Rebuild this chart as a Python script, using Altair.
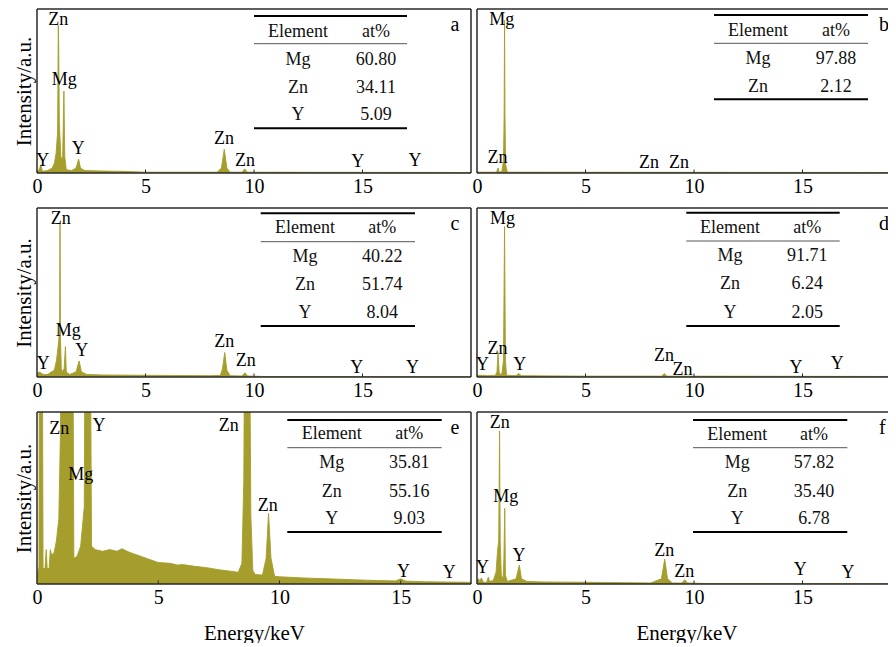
import altair as alt
import pandas as pd

FONT = "Liberation Serif"
COLOR = "#a59e2c"

# ---------------- spectra: energy (keV) and intensity (% of panel height) ----------------
a_E = [0.0, 0.1, 0.18, 0.25, 0.5, 0.7, 0.8, 0.88, 0.95, 0.98, 1.0, 1.03, 1.1, 1.18, 1.24, 1.28, 1.35, 1.6, 1.8, 1.92, 2.0, 2.2, 3.0, 4.0, 5.0, 8.3, 8.5, 8.63, 8.75, 8.9, 9.45, 9.57, 9.7, 20.0]
a_I = [1.0, 2.0, 5.0, 1.0, 1.5, 3.0, 6.0, 12.0, 25.0, 90.0, 78.0, 30.0, 10.0, 8.0, 50.0, 10.0, 2.0, 1.5, 3.0, 8.5, 3.0, 1.5, 1.2, 1.0, 0.5, 0.5, 3.0, 14.5, 3.0, 0.5, 0.5, 2.5, 0.5, 0.3]

b_E = [0.0, 0.1, 0.9, 0.97, 1.02, 1.15, 1.22, 1.25, 1.27, 1.29, 1.32, 1.4, 20.0]
b_I = [1.0, 0.5, 0.5, 3.0, 0.5, 1.0, 8.0, 35.0, 93.0, 35.0, 5.0, 0.5, 0.3]

c_E = [0.0, 0.1, 0.3, 0.5, 0.6, 0.8, 0.9, 1.0, 1.04, 1.06, 1.08, 1.12, 1.18, 1.25, 1.31, 1.35, 1.5, 1.8, 1.94, 2.05, 2.3, 3.0, 5.0, 8.0, 8.45, 8.55, 8.65, 8.75, 8.9, 9.45, 9.58, 9.7, 10.5, 20.0]
c_I = [2.0, 3.0, 1.5, 1.5, 2.5, 4.0, 10.0, 21.0, 30.0, 91.0, 24.0, 5.0, 3.0, 5.0, 18.0, 3.0, 1.5, 3.0, 9.5, 3.0, 1.5, 1.2, 1.0, 0.8, 1.0, 5.0, 14.5, 4.0, 0.8, 0.6, 2.5, 0.6, 0.3, 0.2]

d_E = [0.0, 0.25, 0.5, 0.85, 0.92, 0.97, 1.02, 1.07, 1.15, 1.22, 1.27, 1.31, 1.36, 1.8, 1.92, 2.05, 5.0, 8.5, 8.63, 8.75, 20.0]
d_I = [1.0, 1.0, 0.8, 1.0, 3.0, 14.5, 3.0, 1.5, 2.0, 10.0, 89.0, 10.0, 1.0, 0.8, 2.0, 0.8, 0.5, 0.5, 2.0, 0.5, 0.3]

e_E = [0.0, 0.08, 0.1, 0.22, 0.25, 0.33, 0.38, 0.42, 0.5, 0.55, 0.6, 0.7, 0.8, 0.9, 0.97, 1.0, 1.48, 1.52, 1.65, 1.8, 1.95, 1.98, 2.2, 2.25, 2.4, 2.7, 3.0, 3.3, 3.5, 3.8, 4.0, 4.3, 4.5, 5.0, 5.5, 5.8, 6.0, 6.5, 7.0, 7.5, 8.0, 8.3, 8.45, 8.53, 8.56, 8.77, 8.82, 8.9, 9.0, 9.3, 9.45, 9.55, 9.65, 9.8, 10.0, 11.0, 12.0, 13.0, 14.0, 14.8, 15.0, 15.2, 16.0, 17.0, 17.9]
e_I = [5.0, 10.0, 150.0, 150.0, 9.0, 9.0, 20.0, 9.0, 9.0, 20.0, 17.0, 18.0, 25.0, 38.0, 90.0, 150.0, 150.0, 15.0, 16.0, 22.0, 45.0, 150.0, 150.0, 22.0, 20.0, 19.0, 20.0, 19.0, 20.5, 18.5, 17.5, 16.0, 15.0, 12.5, 12.0, 11.0, 11.3, 10.3, 9.5, 8.3, 7.4, 6.8, 12.0, 60.0, 150.0, 150.0, 40.0, 8.0, 5.5, 5.2, 15.0, 41.0, 15.0, 4.5, 4.2, 3.5, 3.0, 2.5, 2.0, 1.8, 3.0, 1.7, 1.3, 1.1, 1.0]

f_E = [0.0, 0.08, 0.12, 0.2, 0.3, 0.45, 0.52, 0.58, 0.75, 0.88, 0.95, 1.0, 1.04, 1.07, 1.12, 1.2, 1.24, 1.28, 1.31, 1.4, 1.8, 1.95, 2.05, 2.3, 3.0, 5.0, 8.0, 8.5, 8.65, 8.78, 9.0, 9.45, 9.57, 9.7, 10.5, 20.0]
f_I = [2.0, 3.0, 1.5, 3.5, 1.0, 1.0, 4.0, 1.5, 2.0, 7.0, 20.0, 25.0, 89.0, 25.0, 5.0, 3.0, 15.0, 44.0, 5.0, 1.5, 3.0, 11.0, 3.0, 1.5, 1.2, 1.0, 0.6, 3.0, 14.5, 3.0, 0.6, 0.6, 2.5, 0.6, 0.3, 0.2]

# ---------------- peak labels: text, energy, height (% of panel) ----------------
a_lab = ["Zn", "Mg", "Y", "Y", "Zn", "Zn", "Y", "Y"]
a_lx = [0.98, 1.26, 0.26, 1.9, 8.62, 9.58, 14.78, 17.42]
a_ly = [93.3, 56.7, 7.3, 14.8, 20.5, 7.3, 6.7, 7.3]

b_lab = ["Mg", "Zn", "Zn", "Zn"]
b_lx = [1.14, 0.94, 7.93, 9.31]
b_ly = [93.3, 9.3, 6.3, 6.3]

c_lab = ["Zn", "Mg", "Y", "Y", "Zn", "Zn", "Y", "Y"]
c_lx = [1.1, 1.44, 0.29, 2.06, 8.63, 9.62, 14.73, 17.3]
c_ly = [93.5, 27, 7.5, 15.4, 20.9, 9.5, 5.5, 5.5]

d_lab = ["Mg", "Zn", "Y", "Y", "Zn", "Zn", "Y", "Y"]
d_lx = [1.17, 0.94, 0.25, 1.97, 8.62, 9.47, 14.7, 16.6]
d_ly = [93.7, 16.7, 6.9, 6.9, 12.4, 4.1, 5.5, 7.5]

e_lab = ["Zn", "Mg", "Y", "Zn", "Zn", "Y", "Y"]
e_lx = [0.92, 1.8, 2.56, 7.91, 9.52, 15.12, 17.0]
e_ly = [90, 63.4, 92, 92, 45.3, 7.2, 6.6]

f_lab = ["Zn", "Mg", "Y", "Y", "Zn", "Zn", "Y", "Y"]
f_lx = [1.05, 1.33, 0.25, 1.94, 8.63, 9.55, 14.9, 17.1]
f_ly = [93.8, 50.6, 9.5, 16.3, 19.2, 7.2, 8.1, 6.2]

# ---------------- composition tables ----------------
a_el, a_at = ["Mg", "Zn", "Y"], ["60.80", "34.11", "5.09"]
b_el, b_at = ["Mg", "Zn"], ["97.88", "2.12"]
c_el, c_at = ["Mg", "Zn", "Y"], ["40.22", "51.74", "8.04"]
d_el, d_at = ["Mg", "Zn", "Y"], ["91.71", "6.24", "2.05"]
e_el, e_at = ["Mg", "Zn", "Y"], ["35.81", "55.16", "9.03"]
f_el, f_at = ["Mg", "Zn", "Y"], ["57.82", "35.40", "6.78"]

x_ticks = [5, 10, 15]

# ---------------- layout (pixels, relative to each panel frame) ----------------
PX_PER_KEV = 21.7
W_LEFT = 434
W_RIGHT = 419
geom = {
    "a": dict(x0=217, x1=370, top=7, head=23, thin=34.7, rows=[51, 78.7, 106], bot=119.3, c1=261, c2=339),
    "b": dict(x0=237, x1=391, top=6, head=22, thin=34.3, rows=[50.3, 78], bot=90.3, c1=281, c2=359),
    "c": dict(x0=223.7, x1=378, top=5.3, head=20.3, thin=33.7, rows=[49, 77.3, 104.7], bot=118, c1=268, c2=345.3),
    "d": dict(x0=209.3, x1=362.7, top=4.7, head=20.3, thin=33, rows=[48, 76.3, 104.7], bot=118, c1=253, c2=330.3),
    "e": dict(x0=250.3, x1=404.7, top=8, head=22.3, thin=35.7, rows=[50.7, 79.7, 107.3], bot=120, c1=294.7, c2=372.3),
    "f": dict(x0=216, x1=370.3, top=8, head=23, thin=35.7, rows=[50.7, 79.7, 107.3], bot=120, c1=260.3, c2=337),
}
LETTER_LEFT = {"a": 413.5, "c": 413.5, "e": 413.5, "b": 402, "d": 402, "f": 402}
LETTER_Y = 15.5
FRAME = "#2a2a2a"


def panel(key, E, I, labs, lx, ly, els, ats, xmax, W, H, left, bottom):
    kx = xmax / W
    fy = 100.0 / H
    g = geom[key]
    xs = alt.Scale(domain=[0, xmax], nice=False, zero=False)
    ys = alt.Scale(domain=[0, 100], nice=False, zero=False)
    xa = dict(values=[0, 5, 10, 15], labelFlush=False, labelFontSize=20, labelPadding=3)
    if bottom:
        xa["title"] = "Energy/keV"
        xa["titlePadding"] = 15
    else:
        xa["title"] = None
    X = lambda f="x": alt.X(f"{f}:Q", scale=xs, axis=alt.Axis(**xa))
    if left:
        Y = lambda f="y": alt.Y(f"{f}:Q", scale=ys, axis=alt.Axis(title="Intensity/a.u.", labels=False, titlePadding=3))
    else:
        Y = lambda f="y": alt.Y(f"{f}:Q", scale=ys, axis=None)

    spec = pd.DataFrame({"x": E, "y": I})
    area = alt.Chart(spec).mark_area(color=COLOR, clip=True, opacity=1).encode(x=X(), y=Y())
    line = alt.Chart(spec).mark_line(color=COLOR, strokeWidth=0.9, clip=True).encode(x=X(), y=Y())

    tk = pd.DataFrame({"x": x_ticks, "y": [0] * len(x_ticks), "y2": [3.5 * fy] * len(x_ticks)})
    ticks = alt.Chart(tk).mark_rule(color=FRAME, strokeWidth=1).encode(x=X(), y=Y(), y2="y2:Q")

    # frame
    vx = [0, xmax] if left else [0]
    fv = pd.DataFrame({"x": vx, "y": [0] * len(vx), "y2": [100] * len(vx)})
    fh = pd.DataFrame({"x": [0, 0], "x2": [xmax, xmax], "y": [0, 100]})
    frame_v = alt.Chart(fv).mark_rule(color=FRAME, strokeWidth=1.5).encode(x=X(), y=Y(), y2="y2:Q")
    frame_h = alt.Chart(fh).mark_rule(color=FRAME, strokeWidth=1.5).encode(x=X(), x2="x2:Q", y=Y())

    lb = pd.DataFrame({"x": lx, "y": ly, "t": labs})
    labels = alt.Chart(lb).mark_text(font=FONT, fontSize=18, color="black", baseline="middle", align="center").encode(
        x=X(), y=Y(), text="t:N")

    px = lambda p: p * kx
    py = lambda p: 100 - p * fy
    thick = pd.DataFrame({"x": [px(g["x0"])] * 2, "x2": [px(g["x1"])] * 2, "y": [py(g["top"]), py(g["bot"])]})
    thin = pd.DataFrame({"x": [px(g["x0"])], "x2": [px(g["x1"])], "y": [py(g["thin"])]})
    r1 = alt.Chart(thick).mark_rule(color="black", strokeWidth=2).encode(x=X(), x2="x2:Q", y=Y())
    r2 = alt.Chart(thin).mark_rule(color="#555", strokeWidth=1).encode(x=X(), x2="x2:Q", y=Y())

    tx, ty, tt = [], [], []
    tx += [px(g["c1"]), px(g["c2"])]
    ty += [py(g["head"])] * 2
    tt += ["Element", "at%"]
    for r, el, at in zip(g["rows"], els, ats):
        tx += [px(g["c1"]), px(g["c2"])]
        ty += [py(r)] * 2
        tt += [el, at]
    tdf = pd.DataFrame({"x": tx, "y": ty, "t": tt})
    ttext = alt.Chart(tdf).mark_text(font=FONT, fontSize=18, color="#111", baseline="middle", align="center").encode(
        x=X(), y=Y(), text="t:N")

    ldf = pd.DataFrame({"x": [px(LETTER_LEFT[key])], "y": [py(LETTER_Y)], "t": [key]})
    letter = alt.Chart(ldf).mark_text(font=FONT, fontSize=20, color="black", baseline="middle", align="left").encode(
        x=X(), y=Y(), text="t:N")

    return alt.layer(area, line, ticks, frame_v, frame_h, labels, r1, r2, ttext, letter).properties(width=W, height=H)


XR = W_RIGHT / PX_PER_KEV
pa = panel("a", a_E, a_I, a_lab, a_lx, a_ly, a_el, a_at, 20.0, W_LEFT, 164, True, False)
pb = panel("b", b_E, b_I, b_lab, b_lx, b_ly, b_el, b_at, XR, W_RIGHT, 164, False, False)
pc = panel("c", c_E, c_I, c_lab, c_lx, c_ly, c_el, c_at, 20.0, W_LEFT, 169, True, False)
pd_ = panel("d", d_E, d_I, d_lab, d_lx, d_ly, d_el, d_at, XR, W_RIGHT, 169, False, False)
pe = panel("e", e_E, e_I, e_lab, e_lx, e_ly, e_el, e_at, 17.9, W_LEFT, 172, True, True)
pf = panel("f", f_E, f_I, f_lab, f_lx, f_ly, f_el, f_at, XR, W_RIGHT, 172, False, True)

chart = alt.concat(pa, pb, pc, pd_, pe, pf, columns=2, spacing={"row": 35, "column": 6}, bounds="flush").properties(
    padding={"left": 5, "top": 0, "right": -9, "bottom": 0}
).configure_view(stroke="transparent", strokeWidth=0).configure_axis(
    labelFont=FONT, titleFont=FONT, labelColor="black", titleColor="black",
    titleFontSize=21, titleFontWeight="normal", grid=False, domain=False, ticks=False
)

chart.save("out.html", embed_options={"renderer": "svg", "actions": False})
